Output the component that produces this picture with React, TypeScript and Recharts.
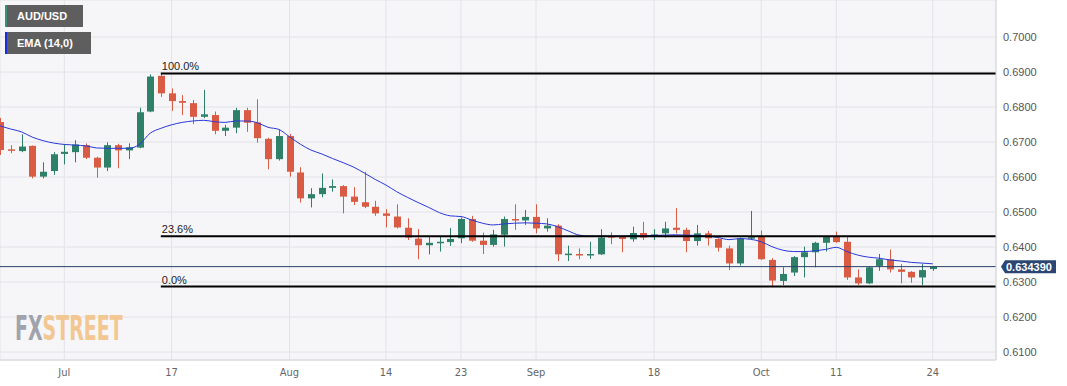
import React from 'react';
import { ComposedChart, Bar, Line, XAxis, YAxis, CartesianGrid, ReferenceLine } from 'recharts';

// AUD/USD daily candles, Jun 23 - Oct 24 2023
const dates = [
  '2023-06-23', '2023-06-26', '2023-06-27', '2023-06-28', '2023-06-29', '2023-06-30',
  '2023-07-03', '2023-07-04', '2023-07-05', '2023-07-06', '2023-07-07',
  '2023-07-10', '2023-07-11', '2023-07-12', '2023-07-13', '2023-07-14',
  '2023-07-17', '2023-07-18', '2023-07-19', '2023-07-20', '2023-07-21',
  '2023-07-24', '2023-07-25', '2023-07-26', '2023-07-27', '2023-07-28',
  '2023-07-31', '2023-08-01', '2023-08-02', '2023-08-03', '2023-08-04',
  '2023-08-07', '2023-08-08', '2023-08-09', '2023-08-10', '2023-08-11',
  '2023-08-14', '2023-08-15', '2023-08-16', '2023-08-17', '2023-08-18',
  '2023-08-21', '2023-08-22', '2023-08-23', '2023-08-24', '2023-08-25',
  '2023-08-28', '2023-08-29', '2023-08-30', '2023-08-31', '2023-09-01',
  '2023-09-04', '2023-09-05', '2023-09-06', '2023-09-07', '2023-09-08',
  '2023-09-11', '2023-09-12', '2023-09-13', '2023-09-14', '2023-09-15',
  '2023-09-18', '2023-09-19', '2023-09-20', '2023-09-21', '2023-09-22',
  '2023-09-25', '2023-09-26', '2023-09-27', '2023-09-28', '2023-09-29',
  '2023-10-02', '2023-10-03', '2023-10-04', '2023-10-05', '2023-10-06',
  '2023-10-09', '2023-10-10', '2023-10-11', '2023-10-12', '2023-10-13',
  '2023-10-16', '2023-10-17', '2023-10-18', '2023-10-19', '2023-10-20',
  '2023-10-23', '2023-10-24',
];

const opens = [
  0.6757, 0.6679, 0.6674, 0.6689, 0.6601, 0.6617,
  0.6666, 0.6671, 0.6691, 0.6655, 0.6627,
  0.6691, 0.6676, 0.6684, 0.6787, 0.6889,
  0.6839, 0.6817, 0.6811, 0.6772, 0.6777,
  0.6732, 0.6741, 0.6791, 0.6756, 0.6709,
  0.6651, 0.6717, 0.6613, 0.6539, 0.6551,
  0.6569, 0.6574, 0.6544, 0.6528, 0.6515,
  0.6496, 0.6487, 0.6455, 0.6424, 0.6405,
  0.6412, 0.6414, 0.6425, 0.6480, 0.6418,
  0.6406, 0.6435, 0.6480, 0.6476, 0.6486,
  0.6453, 0.6461, 0.6378, 0.6380, 0.6377,
  0.6379, 0.6431, 0.6429, 0.6422, 0.6440,
  0.6433, 0.6439, 0.6455, 0.6449, 0.6417,
  0.6439, 0.6423, 0.6396, 0.6353, 0.6426,
  0.6429, 0.6363, 0.6303, 0.6327, 0.6371,
  0.6385, 0.6412, 0.6429, 0.6415, 0.6313,
  0.6296, 0.6346, 0.6365, 0.6336, 0.6329,
  0.6313, 0.6337,
];

const highs = [
  0.6769, 0.6691, 0.6722, 0.6690, 0.6642, 0.6671,
  0.6693, 0.6705, 0.6696, 0.6658, 0.6699,
  0.6695, 0.6696, 0.6798, 0.6893, 0.6896,
  0.6853, 0.6834, 0.6820, 0.6849, 0.6787,
  0.6749, 0.6798, 0.6798, 0.6822, 0.6712,
  0.6736, 0.6723, 0.6628, 0.6568, 0.6610,
  0.6593, 0.6577, 0.6571, 0.6615, 0.6532,
  0.6508, 0.6522, 0.6482, 0.6451, 0.6429,
  0.6429, 0.6454, 0.6484, 0.6489, 0.6441,
  0.6449, 0.6487, 0.6522, 0.6506, 0.6522,
  0.6482, 0.6465, 0.6404, 0.6396, 0.6415,
  0.6451, 0.6442, 0.6431, 0.6458, 0.6472,
  0.6451, 0.6472, 0.6511, 0.6455, 0.6463,
  0.6446, 0.6425, 0.6404, 0.6427, 0.6503,
  0.6447, 0.6368, 0.6342, 0.6374, 0.6401,
  0.6415, 0.6431, 0.6444, 0.6429, 0.6336,
  0.6344, 0.6380, 0.6393, 0.6351, 0.6331,
  0.6351, 0.6346,
];

const lows = [
  0.6663, 0.6668, 0.6671, 0.6596, 0.6596, 0.6606,
  0.6636, 0.6642, 0.6651, 0.6598, 0.6617,
  0.6625, 0.6651, 0.6682, 0.6785, 0.6829,
  0.6789, 0.6777, 0.6751, 0.6768, 0.6722,
  0.6717, 0.6725, 0.6729, 0.6698, 0.6622,
  0.6647, 0.6601, 0.6527, 0.6513, 0.6542,
  0.6558, 0.6496, 0.6520, 0.6511, 0.6489,
  0.6456, 0.6453, 0.6420, 0.6365, 0.6379,
  0.6387, 0.6403, 0.6411, 0.6415, 0.6380,
  0.6401, 0.6401, 0.6449, 0.6463, 0.6439,
  0.6444, 0.6360, 0.6360, 0.6365, 0.6366,
  0.6377, 0.6408, 0.6385, 0.6415, 0.6420,
  0.6420, 0.6427, 0.6439, 0.6385, 0.6404,
  0.6404, 0.6387, 0.6334, 0.6347, 0.6420,
  0.6363, 0.6287, 0.6291, 0.6317, 0.6313,
  0.6342, 0.6387, 0.6412, 0.6306, 0.6291,
  0.6294, 0.6332, 0.6327, 0.6296, 0.6298,
  0.6291, 0.6332,
];

const closes = [
  0.6677, 0.6677, 0.6687, 0.6601, 0.6615, 0.6665,
  0.6672, 0.6693, 0.6655, 0.6627, 0.6691,
  0.6676, 0.6685, 0.6785, 0.6887, 0.6839,
  0.6817, 0.6812, 0.6772, 0.6779, 0.6732,
  0.6741, 0.6791, 0.6755, 0.6711, 0.6651,
  0.6717, 0.6615, 0.6539, 0.6551, 0.6569,
  0.6574, 0.6544, 0.6529, 0.6515, 0.6496,
  0.6489, 0.6456, 0.6427, 0.6405, 0.6412,
  0.6415, 0.6423, 0.6480, 0.6418, 0.6406,
  0.6436, 0.6480, 0.6476, 0.6486, 0.6453,
  0.6461, 0.6379, 0.6381, 0.6377, 0.6380,
  0.6427, 0.6427, 0.6423, 0.6440, 0.6427,
  0.6436, 0.6453, 0.6449, 0.6417, 0.6439,
  0.6425, 0.6398, 0.6353, 0.6425, 0.6428,
  0.6365, 0.6304, 0.6323, 0.6371, 0.6385,
  0.6412, 0.6429, 0.6414, 0.6313, 0.6296,
  0.6342, 0.6365, 0.6336, 0.6329, 0.6313,
  0.6334, 0.6344,
];

const ema14 = [
  0.6746, 0.6737, 0.6729, 0.6714, 0.6704, 0.6697,
  0.6693, 0.6691, 0.6689, 0.6683, 0.6682,
  0.6682, 0.6682, 0.6693, 0.6725, 0.6739,
  0.6749, 0.6756, 0.6760, 0.6762, 0.6758,
  0.6756, 0.6760, 0.6760, 0.6755, 0.6742,
  0.6736, 0.6715, 0.6694, 0.6677, 0.6666,
  0.6653, 0.6641, 0.6628, 0.6611, 0.6593,
  0.6577, 0.6558, 0.6542, 0.6527, 0.6513,
  0.6498, 0.6489, 0.6487, 0.6477, 0.6468,
  0.6463, 0.6466, 0.6468, 0.6469, 0.6468,
  0.6466, 0.6458, 0.6446, 0.6434, 0.6431,
  0.6431, 0.6431, 0.6431, 0.6432, 0.6432,
  0.6433, 0.6434, 0.6435, 0.6434, 0.6433,
  0.6431, 0.6427, 0.6421, 0.6424, 0.6422,
  0.6415, 0.6401, 0.6391, 0.6387, 0.6387,
  0.6389, 0.6393, 0.6399, 0.6387, 0.6377,
  0.6371, 0.6368, 0.6363, 0.6360, 0.6356,
  0.6354, 0.6352,
];

const tickDates = ['2023-07-03', '2023-07-17', '2023-08-01', '2023-08-14', '2023-08-23', '2023-09-01', '2023-09-18', '2023-10-02', '2023-10-11', '2023-10-24'];
const tickLabels = ['Jul', '17', 'Aug', '14', '23', 'Sep', '18', 'Oct', '11', '24'];
const priceTicks = [0.61, 0.62, 0.63, 0.64, 0.65, 0.66, 0.67, 0.68, 0.69, 0.7];

const fibLevels = [0.6896, 0.6431, 0.6287];
const fibLabels = ['100.0%', '23.6%', '0.0%'];
const fibStart = '2023-07-14';
const lastPrice = 0.63439;

const GREEN = '#2f8068';
const RED = '#d95b43';
const X_MAX = dates.length + 4.9; // empty space right of the last candle
const Y_MIN = 0.607714;
const Y_MAX = 0.710571;

const data = dates.map((d, i) => ({
  i,
  date: d,
  open: opens[i],
  high: highs[i],
  low: lows[i],
  close: closes[i],
  ema: ema14[i],
}));

const tickIdx = tickDates.map((d) => dates.indexOf(d));
const fibStartIdx = dates.indexOf(fibStart);

const Candle = (props: any) => {
  const { x, y, width, height, payload } = props;
  if (x == null || !payload) return null;
  const { open, close, high, low } = payload;
  const top = Math.min(y, y + height);
  const h = Math.abs(height);
  const toPx = (v: number) => top + ((high - v) / (high - low || 1)) * h;
  const color = close >= open ? GREEN : RED;
  const cx = Math.round(x + width / 2) + 0.5;
  const bTop = toPx(Math.max(open, close));
  const bBot = toPx(Math.min(open, close));
  return (
    <g>
      <line x1={cx} x2={cx} y1={top} y2={top + h} stroke={color} strokeWidth={1} />
      <rect x={cx - 3.5} y={bTop} width={7} height={Math.max(1.5, bBot - bTop)} fill={color} />
    </g>
  );
};

const FibLabel = (text: string) => (props: any) => {
  const { viewBox } = props;
  if (!viewBox) return null;
  return (
    <text x={viewBox.x + 1} y={viewBox.y - 3} fontSize={11} fill="#222" fontFamily='"Liberation Sans", Arial, sans-serif'>
      {text}
    </text>
  );
};

const PriceTag = (props: any) => {
  const { viewBox } = props;
  if (!viewBox) return null;
  const yc = viewBox.y;
  const x0 = viewBox.x + viewBox.width + 5;
  return (
    <g>
      <path d={`M${x0} ${yc} L${x0 + 4} ${yc - 6.5} H${x0 + 55} V${yc + 6.5} H${x0 + 4} Z`} fill="#2b4672" />
      <text x={x0 + 5} y={yc + 4} fill="#fff" fontSize={11} fontWeight="bold" fontFamily='"Liberation Sans", Arial, sans-serif'>
        {lastPrice.toFixed(6)}
      </text>
    </g>
  );
};

const legendBox: React.CSSProperties = {
  position: 'absolute',
  left: 5,
  height: 22,
  background: '#5e5e5e',
  color: '#fff',
  font: 'bold 11px "Liberation Sans", Arial, sans-serif',
  lineHeight: '22px',
  paddingLeft: 10,
  boxSizing: 'border-box',
};

export default function App() {
  return (
    <div style={{ position: 'relative', width: 1067, height: 386, background: '#fff' }}>
      <style>{'body{margin:0}'}</style>
      <ComposedChart width={1067} height={386} data={data} margin={{ top: 0, right: 0, bottom: 0, left: 0 }}>
        <CartesianGrid stroke="#e3e3e8" fill="#f6f6f8" />
        <XAxis
          dataKey="i"
          type="number"
          domain={[0, X_MAX]}
          allowDataOverflow
          ticks={tickIdx}
          interval={0}
          tickFormatter={(v) => tickLabels[tickIdx.indexOf(v)] ?? ''}
          tickLine={false}
          tickSize={0}
          tickMargin={8}
          height={26}
          axisLine={{ stroke: '#d6d6dc' }}
          tick={{ fill: '#666', fontSize: 11, fontFamily: '"Liberation Sans Narrow", "DejaVu Sans Condensed", sans-serif' }}
        />
        <YAxis
          orientation="right"
          type="number"
          domain={[Y_MIN, Y_MAX]}
          allowDataOverflow
          ticks={priceTicks}
          interval={0}
          tickFormatter={(v) => v.toFixed(4)}
          width={71}
          tickLine={false}
          tickSize={0}
          tickMargin={7}
          axisLine={{ stroke: '#d6d6dc' }}
          tick={{ fill: '#555', fontSize: 11, fontFamily: '"Liberation Sans", Arial, sans-serif', textAnchor: 'start' }}
        />
        <Bar
          dataKey={(d: any) => [d.low, d.high]}
          barSize={7}
          shape={(p: any) => <Candle {...p} />}
          isAnimationActive={false}
        />
        <Line
          dataKey="ema"
          type="monotone"
          stroke="#2a38d8"
          strokeWidth={1}
          dot={false}
          activeDot={false}
          isAnimationActive={false}
        />
        {fibLevels.map((lvl, k) => (
          <ReferenceLine
            key={fibLabels[k]}
            segment={[{ x: fibStartIdx, y: lvl }, { x: X_MAX, y: lvl }]}
            stroke="#000"
            strokeWidth={2}
            label={FibLabel(fibLabels[k])}
          />
        ))}
        <ReferenceLine y={lastPrice} stroke="#27406b" strokeWidth={1} label={PriceTag} />
      </ComposedChart>
      <div style={{ ...legendBox, top: 5, width: 78, borderLeft: '2px solid #3d8f73' }}>AUD/USD</div>
      <div style={{ ...legendBox, top: 32, width: 86, borderLeft: '2px solid #1b2be0' }}>EMA (14,0)</div>
      <svg style={{ position: 'absolute', left: 10, top: 306, pointerEvents: 'none' }} width={140} height={44}>
        <g transform="translate(5,0) scale(0.62,1)">
          <text x={0} y={34} fontSize={34} fontWeight="bold"
            fontFamily='"DejaVu Sans Condensed", "Liberation Sans Narrow", sans-serif'>
            <tspan fill="#a0a3ab">FX</tspan>
            <tspan fill="#f3c792">STREET</tspan>
          </text>
        </g>
      </svg>
    </div>
  );
}
